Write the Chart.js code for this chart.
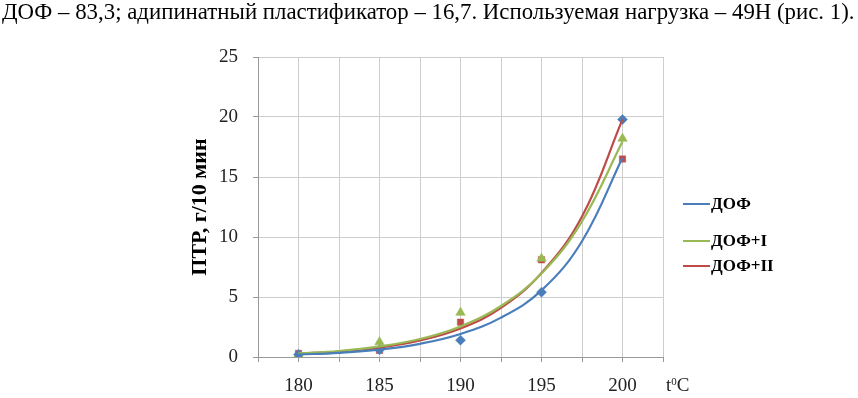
<!DOCTYPE html>
<html>
<head>
<meta charset="utf-8">
<script src="https://cdn.jsdelivr.net/npm/chart.js@4.4.1/dist/chart.umd.min.js"></script>
<style>
  html, body { margin: 0; padding: 0; background: #fff; }
  #wrap { position: relative; width: 858px; height: 398px; overflow: hidden; }
  #cv { position: absolute; left: 0; top: 0; }
  #toptext { position: absolute; left: 2px; top: -2px; white-space: nowrap;
    font-family: "Liberation Serif", "Times New Roman", serif; font-size: 18px; color: #000; line-height: 1.2; }
  #legend { position: absolute; left: 683px; top: 0; font-family: "Liberation Serif", serif; font-weight: bold; font-size: 17px; color: #000; }
  .lg { position: absolute; white-space: nowrap; display: flex; align-items: center; }
  .lg i { display: inline-block; width: 27px; height: 2px; margin-right: 1px; }
  #tunit { position: absolute; left: 666px; top: 375px; font-family: "Liberation Serif", serif; font-size: 19px; line-height: 19px; color: #222; white-space: nowrap; }
  #tunit sup { font-size: 11px; vertical-align: 6px; line-height: 0; }
</style>
</head>
<body>
<div id="wrap">
  <canvas id="cv" width="858" height="398"></canvas>
  <div id="toptext">ДОФ – 83,3; адипинатный пластификатор – 16,7. Используемая нагрузка – 49Н (рис. 1).</div>
  <div id="legend"></div>
  <div id="tunit">t<sup>0</sup>C</div>
</div>
<script>
// ---- data ----
const temps = [180, 185, 190, 195, 200];
const seriesNames = ['ДОФ', 'ДОФ+I', 'ДОФ+II'];
const dofPoints   = [0.2, 0.6, 1.4, 5.4, 19.8];
const dof1Points  = [0.2, 1.25, 3.7, 8.2, 18.2];
const dof2Points  = [0.3, 0.55, 2.9, 8.1, 16.5];
// trend curves
const trendTemps = [180, 182.5, 185, 187.5, 190, 192.5, 195, 197.5, 200];
const dofTrend   = [0.2, 0.35, 0.62, 1.1, 1.92, 3.28, 5.55, 9.65, 16.6];
const dof1Trend  = [0.3, 0.5, 0.88, 1.5, 2.55, 4.25, 6.95, 11.3, 17.95];
const dof2Trend  = [0.28, 0.46, 0.78, 1.38, 2.38, 4.1, 7.0, 11.7, 19.8];
const xTickLabels = ['180', '185', '190', '195', '200'];
const yTickLabels = ['0', '5', '10', '15', '20', '25'];
const yTitle = 'ПТР, г/10 мин';

const colors = ['#4a7ebb', '#98b954', '#be4b48'];
const styles = ['rectRot', 'triangle', 'rect'];
const radii = [5, 5.5, 4.5];
const pts = [dofPoints, dof1Points, dof2Points];
const trends = [dofTrend, dof1Trend, dof2Trend];

const datasets = [];
for (let i = 0; i < 3; i++) {
  datasets.push({
    label: seriesNames[i] + ' trend',
    data: trendTemps.map((t, k) => ({ x: t, y: trends[i][k] })),
    borderColor: colors[i], borderWidth: 2.2, pointRadius: 0, showLine: true,
    tension: 0.4, fill: false, order: 0
  });
}
for (let i = 0; i < 3; i++) {
  datasets.push({
    label: seriesNames[i],
    data: temps.map((t, k) => ({ x: t, y: pts[i][k] })),
    showLine: false, pointStyle: styles[i], pointRadius: radii[i],
    backgroundColor: colors[i], borderColor: colors[i], borderWidth: 0.5, order: 1
  });
}

// HTML legend
const lgTops = [204, 241, 266];
const lg = document.getElementById('legend');
seriesNames.forEach((n, i) => {
  const d = document.createElement('div');
  d.className = 'lg';
  d.style.top = (lgTops[i] - 11) + 'px';
  d.style.height = '22px';
  d.innerHTML = '<i style="background:' + colors[i] + '"></i><span>' + n + '</span>';
  lg.appendChild(d);
});

// fit the top text line to the page width
(function () {
  const t = document.getElementById('toptext');
  const w = t.getBoundingClientRect().width;
  const fs = 18 * 853 / w;
  t.style.fontSize = fs.toFixed(2) + 'px';
})();

const serif = '"Liberation Serif", "Times New Roman", serif';
new Chart(document.getElementById('cv'), {
  type: 'scatter',
  data: { datasets },
  options: {
    responsive: false, animation: false, devicePixelRatio: 1,
    layout: { padding: { left: 187, right: 195, top: 57, bottom: 0 } },
    plugins: { legend: { display: false }, tooltip: { enabled: false } },
    scales: {
      x: {
        type: 'linear', min: 177.5, max: 202.5,
        afterFit: s => { s.height = 41; },
        grid: { color: '#cdcdcd', lineWidth: 1, tickLength: 5, tickColor: '#999' },
        border: { color: '#999', width: 1 },
        ticks: {
          stepSize: 2.5, autoSkip: false, maxRotation: 0, padding: 13,
          color: '#222', font: { family: serif, size: 19 },
          callback: v => xTickLabels.includes(String(v)) ? String(v) : ''
        }
      },
      y: {
        min: 0, max: 25,
        afterFit: s => { s.width = 71; },
        grid: { color: '#cdcdcd', lineWidth: 1, tickLength: 5, tickColor: '#999' },
        border: { color: '#999', width: 1 },
        ticks: {
          stepSize: 5, padding: 15, color: '#222', font: { family: serif, size: 19 },
          callback: v => yTickLabels.includes(String(v)) ? String(v) : ''
        },
        title: { display: true, text: yTitle, color: '#000', padding: 0,
          font: { family: serif, size: 22, weight: 'bold' } }
      }
    }
  }
});
</script>
</body>
</html>
